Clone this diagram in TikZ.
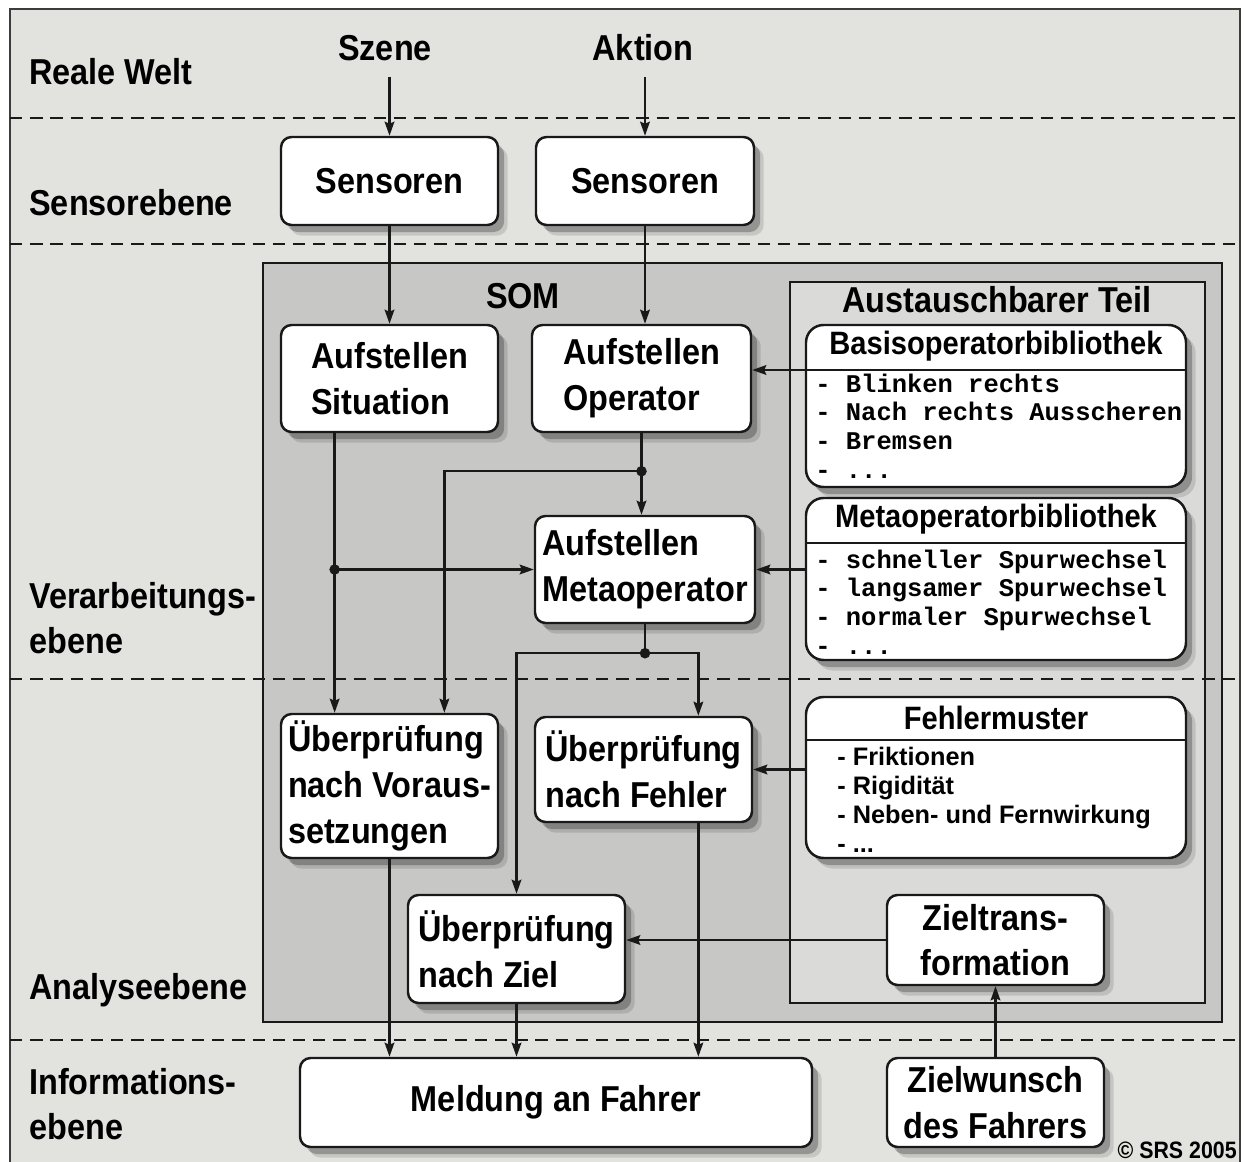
\documentclass[tikz,border=0pt]{standalone}
\usepackage{fontspec}
\setmainfont{Liberation Sans}
\newfontfamily\cnd{Liberation Sans}[FakeStretch=0.9]
\newfontfamily\plainsans{Liberation Sans}
\newfontfamily\monob{Liberation Mono}
\usetikzlibrary{arrows.meta,shadows,calc}
\definecolor{bgouter}{RGB}{226,226,223}
\definecolor{somgray}{RGB}{199,199,197}
\definecolor{ausgray}{RGB}{218,218,216}
\definecolor{ink}{RGB}{25,25,25}
\tikzset{
  bigtxt/.style={font=\cnd\bfseries\fontsize{20.5}{26}\selectfont},
  hdrtxt/.style={font=\cnd\bfseries\fontsize{18.4}{22}\selectfont, inner sep=0pt},
  box/.style={draw=ink, line width=1.4pt, fill=white, rounded corners=6pt, inner sep=0pt, bigtxt,
     drop shadow={shadow xshift=5.5pt, shadow yshift=-6pt, opacity=0.12, fill=black},
     drop shadow={shadow xshift=3.5pt, shadow yshift=-4pt, opacity=0.25, fill=black}},
  libbox/.style={box, rounded corners=10pt},
  conn/.style={draw=ink, line width=1.35pt},
  arr/.style={conn, -{Stealth[length=8pt,width=5.5pt,inset=1.2pt]}},
  jdot/.style={circle, fill=ink, inner sep=0pt, minimum size=6pt},
  laneline/.style={draw=ink, line width=1.2pt, dash pattern=on 7pt off 4.5pt},
  lvl/.style={bigtxt, anchor=west, align=left, inner sep=0pt},
  monolist/.style={font=\monob\bfseries\fontsize{14.5}{16.3}\selectfont, align=left, anchor=west, inner sep=0pt},
  sanslist/.style={font=\plainsans\bfseries\fontsize{14.4}{16.4}\selectfont, align=left, anchor=west, inner sep=0pt},
}
\begin{document}
\begin{tikzpicture}[x=0.2mm,y=-0.2mm]
\clip (0,0) rectangle (1244,1162);
\fill[white] (0,0) rectangle (1244,1162);
\draw[fill=bgouter, draw=ink!85, line width=1.4pt] (10,9) rectangle (1240,1180);
\draw[fill=somgray, draw=ink, line width=1.4pt] (263,263) rectangle (1222,1022);
\draw[fill=ausgray, draw=ink, line width=1.3pt] (790,282) rectangle (1205,1003);
\foreach \yy in {118,244,679,1040} \draw[laneline] (10,\yy) -- (1240,\yy);

% level labels
\node[lvl] (lReal) at (29,72) {Reale Welt};
\node[lvl] (lSens) at (29,203) {Sensorebene};
\node[lvl] (lVer) at (29,618) {Verarbeitungs-\\ebene};
\node[lvl] (lAna) at (29,990) {Analyseebene};
\node[lvl] (lInf) at (29,1104) {Informations-\\ebene};

\node[bigtxt, inner sep=0pt] (szene) at (385,48) {Szene};
\node[bigtxt, inner sep=0pt] (aktion) at (643,48) {Aktion};
\node[bigtxt, inner sep=0pt] (som) at (523,296) {SOM};
\node[bigtxt, inner sep=0pt] (aus) at (997,300) {Austauschbarer Teil};

% main boxes
\node[box, minimum width=43.4mm, minimum height=17.6mm] (sen1) at (389.5,181) {Sensoren};
\node[box, minimum width=43.6mm, minimum height=17.6mm] (sen2) at (645,181) {Sensoren};
\node[box, align=left, minimum width=43.4mm, minimum height=21.4mm] (sit) at (389.5,378.5) {Aufstellen\\Situation};
\node[box, align=left, minimum width=43.8mm, minimum height=21.4mm] (op) at (641.5,378.5) {Aufstellen\\Operator};
\node[box, align=left, minimum width=44mm, minimum height=21.4mm] (meta) at (645,569.5) {Aufstellen\\Metaoperator};
\node[box, align=left, minimum width=43.4mm, minimum height=28.8mm] (vor) at (389.5,786) {Überprüfung\\nach Voraus-\\setzungen};
\node[box, align=left, minimum width=43.4mm, minimum height=21mm] (feh) at (643.5,769.5) {Überprüfung\\nach Fehler};
\node[box, align=left, minimum width=43.4mm, minimum height=21.6mm] (ziel) at (516.5,949) {Überprüfung\\nach Ziel};
\node[box, minimum width=102.4mm, minimum height=17.8mm] (meld) at (556,1102.5) {Meldung an Fahrer};
\node[box, align=center, minimum width=43.4mm, minimum height=17.8mm] (zw) at (995.5,1102.5) {Zielwunsch\\des Fahrers};
\node[box, align=center, minimum width=43.4mm, minimum height=18mm] (zt) at (995.5,940) {Zieltrans-\\formation};

% library boxes
\node[libbox, minimum width=76mm, minimum height=32.4mm] (basis) at (996,406) {};
\coordinate (bh) at (996,370);
\draw[draw=ink, line width=1.3pt] (basis.west |- bh) -- (basis.east |- bh);
\node[hdrtxt] (basisH) at (996,346) {Basisoperatorbibliothek};
\node[monolist] (basisL) at (815,426) {- Blinken rechts\\- Nach rechts Ausscheren\\- Bremsen\\- ...};

\node[libbox, minimum width=76mm, minimum height=32.4mm] (mlib) at (996,579) {};
\coordinate (mh) at (996,543);
\draw[draw=ink, line width=1.3pt] (mlib.west |- mh) -- (mlib.east |- mh);
\node[hdrtxt] (mlibH) at (996,519) {Metaoperatorbibliothek};
\node[monolist] (mlibL) at (815,602) {- schneller Spurwechsel\\- langsamer Spurwechsel\\- normaler Spurwechsel\\- ...};

\node[libbox, minimum width=76mm, minimum height=32.2mm] (fm) at (996,777.5) {};
\coordinate (fh) at (996,740);
\draw[draw=ink, line width=1.3pt] (fm.west |- fh) -- (fm.east |- fh);
\node[hdrtxt] (fmH) at (996,718) {Fehlermuster};
\node[sanslist] (fmL) at (837,800) {- Friktionen\\- Rigidität\\- Neben- und Fernwirkung\\- ...};

\node[font=\cnd\bfseries\fontsize{13.5}{15}\selectfont, anchor=east, inner sep=0pt] (copy) at (1237,1150) {© SRS 2005};

% connectors
\coordinate (szS) at ([yshift=-9pt]szene.south);
\coordinate (akS) at ([yshift=-9pt]aktion.south);
\draw[arr] (sen1.north |- szS) -- (sen1.north);
\draw[arr] (sen2.north |- akS) -- (sen2.north);
\draw[arr] (sen1.south) -- (sit.north);
\draw[arr] (sen2.south) -- (sen2.south |- op.north);
\draw[arr] (basis.west |- bh) -- (op.east |- bh);
\draw[arr] (mlib.west |- meta.east) -- (meta.east);
\draw[arr] (fm.west |- feh.east) -- (feh.east);
\draw[arr] (zt.west) -- (zt.west -| ziel.east);
\draw[arr] (zw.north) -- (zt.south);

\coordinate (sitO) at ($(sit.south west)!0.25!(sit.south east)$);
\coordinate (vorA) at ($(vor.north west)!0.25!(vor.north east)$);
\coordinate (vorB) at ($(vor.north west)!0.75!(vor.north east)$);
\coordinate (fehA) at ($(feh.north west)!0.75!(feh.north east)$);
\coordinate (fehB) at ($(feh.south west)!0.75!(feh.south east)$);

\node[jdot] (j1) at ($(op.south)+(0,38)$) {};
\draw[conn] (op.south) -- (j1.center);
\draw[arr] (j1.center) -- (j1.center |- meta.north);
\draw[arr] (j1.center) -| (vorB);

\node[jdot] (j2) at (sitO |- meta.west) {};
\draw[arr] (sitO) -- (vorA);
\draw[arr] (j2.center) -- (meta.west);

\node[jdot] (j3) at ($(meta.south)+(0,29)$) {};
\draw[conn] (meta.south) -- (j3.center);
\draw[arr] (j3.center) -| (fehA);
\draw[arr] (j3.center) -| (ziel.north);

\draw[arr] (vor.south) -- (vor.south |- meld.north);
\draw[arr] (ziel.south) -- (ziel.south |- meld.north);
\draw[arr] (fehB) -- (fehB |- meld.north);
\end{tikzpicture}
\end{document}
